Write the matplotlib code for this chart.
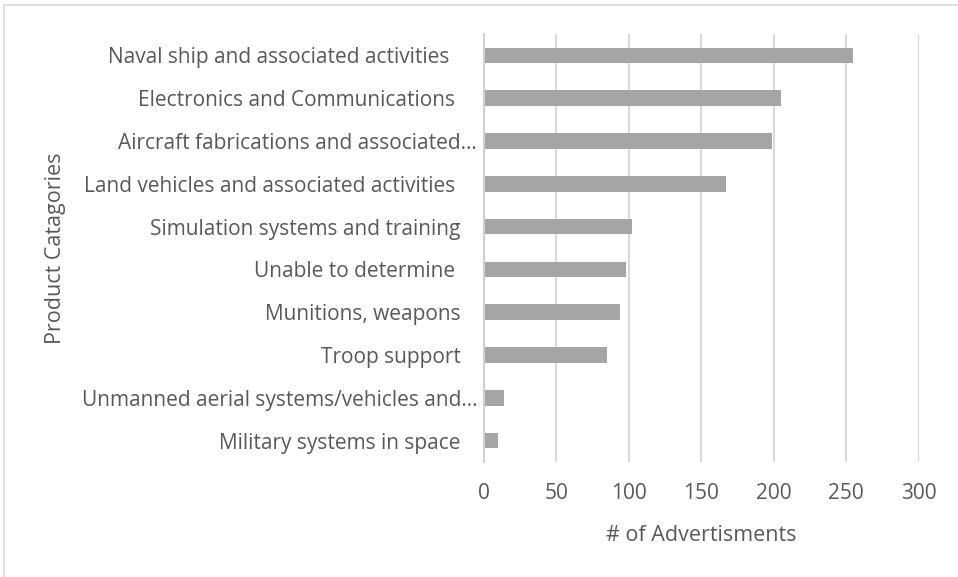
import matplotlib
matplotlib.use("Agg")
import matplotlib.pyplot as plt
from matplotlib.patches import Rectangle

categories = [
    "Naval ship and associated activities",
    "Electronics and Communications",
    "Aircraft fabrications and associated\u2026",
    "Land vehicles and associated activities",
    "Simulation systems and training",
    "Unable to determine",
    "Munitions, weapons",
    "Troop support",
    "Unmanned aerial systems/vehicles and\u2026",
    "Military systems in space",
]
counts = [255, 205, 199, 167, 102, 98, 94, 85, 14, 10]
xticks = [0, 50, 100, 150, 200, 250, 300]

# extra label padding (points) per category, mimicking trailing whitespace
label_pad = [20, 16, 0, 16, 12, 16, 12, 12, 0, 12]

plt.rcParams["font.family"] = ["Open Sans", "DejaVu Sans"]
text_color = "#595959"

fig = plt.figure(figsize=(9.58, 5.77), dpi=100)
ax = fig.add_axes([484 / 958, 1 - 462 / 577, (918.7 - 484) / 958, (462 - 34) / 577])

y = list(range(len(categories)))
ax.barh(y, counts, height=0.36, color="#a5a5a5", zorder=3)
ax.set_ylim(len(categories) - 0.5, -0.5)
ax.set_xlim(0, 300)
ax.set_yticks(y)
ax.set_yticklabels(categories)
ax.set_xticks(xticks)
ax.set_xticklabels([str(t) for t in xticks])

ax.grid(axis="x", color="#d9d9d9", linewidth=1.5, zorder=0)
for s in ["top", "right", "bottom"]:
    ax.spines[s].set_visible(False)
ax.spines["left"].set_color("#d0d0d0")
ax.spines["left"].set_linewidth(1.5)
ax.spines["left"].set_zorder(4)

ax.tick_params(axis="both", length=0, labelsize=15, labelcolor=text_color)
ax.tick_params(axis="x", pad=15)
for tick, p in zip(ax.yaxis.get_major_ticks(), label_pad):
    tick.set_pad(5 + p)

ax.set_xlabel("# of Advertisments", fontsize=15.5, color=text_color, labelpad=15)
ax.set_ylabel("Product Catagories", fontsize=15.5, color=text_color)
ax.yaxis.set_label_coords(-(484 - 66) / (918.7 - 484), 0.5)

# chart area border
fig.patches.append(Rectangle((4 / 958, -0.05), 1.2, 1 - 4.5 / 577 + 0.05,
                             transform=fig.transFigure, fill=False,
                             edgecolor="#d9d9d9", linewidth=1.2))

fig.savefig("out.png", dpi=100)
